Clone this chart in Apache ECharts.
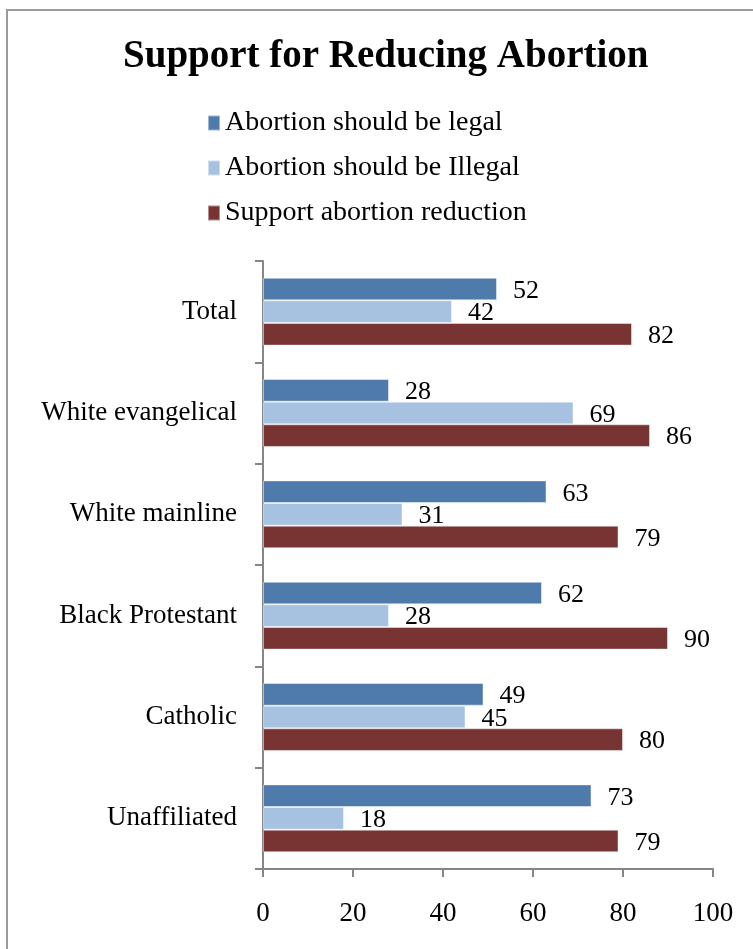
<!DOCTYPE html>
<html>
<head>
<meta charset="utf-8">
<script src="https://cdn.jsdelivr.net/npm/echarts@6/dist/echarts.min.js"></script>
<style>
  html, body { margin: 0; padding: 0; background: #ffffff; }
  #chart { width: 753px; height: 949px; }
</style>
</head>
<body>
<div id="chart"></div>
<script>
// Survey groups, listed top to bottom
const groups = ['Total', 'White evangelical', 'White mainline', 'Black Protestant', 'Catholic', 'Unaffiliated'];

// Percentages per group
const legalValues = [52, 28, 63, 62, 49, 73];
const illegalValues = [42, 69, 31, 28, 45, 18];
const reductionValues = [82, 86, 79, 90, 80, 79];

const seriesNames = ['Abortion should be legal', 'Abortion should be Illegal', 'Support abortion reduction'];
const seriesColors = ['#4F7BAC', '#A7C1E0', '#773432'];

// Value axis ticks
const axisMin = 0;
const axisMax = 100;
const axisStep = 20;

const FONT = '"Liberation Serif", "DejaVu Serif", serif';

function barSeries(name, values, color) {
  return {
    name: name,
    type: 'bar',
    data: values,
    barGap: '0%',
    barCategoryGap: '33%',
    itemStyle: { color: color, borderColor: 'rgba(255,255,255,0.45)', borderWidth: 1 },
    label: {
      show: true,
      position: 'right',
      distance: 16,
      offset: [0, 2],
      color: '#000000',
      fontFamily: FONT,
      fontSize: 26
    }
  };
}

const chart = echarts.init(document.getElementById('chart'), null, { renderer: 'canvas' });

chart.setOption({
  backgroundColor: '#ffffff',
  animation: false,
  graphic: [{
    type: 'rect',
    z: -10,
    shape: { x: 7, y: 10, width: 800, height: 1000 },
    style: { fill: 'none', stroke: '#9a9a9a', lineWidth: 2 }
  }],
  title: {
    text: 'Support for Reducing Abortion',
    left: 123,
    top: 37,
    padding: 0,
    textStyle: { fontFamily: FONT, fontWeight: 'bold', fontSize: 39, color: '#000000' }
  },
  legend: {
    orient: 'vertical',
    left: 207,
    top: 109,
    itemWidth: 12,
    itemHeight: 15,
    itemGap: 17,
    padding: 0,
    icon: 'rect',
    data: seriesNames,
    textStyle: { fontFamily: FONT, fontSize: 28, lineHeight: 28, color: '#000000' }
  },
  grid: { left: 263, right: 40, top: 261, bottom: 80, containLabel: false },
  xAxis: {
    type: 'value',
    min: axisMin,
    max: axisMax,
    interval: axisStep,
    splitLine: { show: false },
    axisLine: { show: true, lineStyle: { color: '#868686', width: 2 } },
    axisTick: { show: true, length: 8, lineStyle: { color: '#868686', width: 2 } },
    axisLabel: { margin: 31, color: '#000000', fontFamily: FONT, fontSize: 27 }
  },
  yAxis: {
    type: 'category',
    data: groups,
    inverse: true,
    axisLine: { show: true, lineStyle: { color: '#868686', width: 2 } },
    axisTick: { show: true, length: 8, lineStyle: { color: '#868686', width: 2 } },
    axisLabel: { margin: 26, color: '#000000', fontFamily: FONT, fontSize: 27 }
  },
  series: [
    barSeries(seriesNames[0], legalValues, seriesColors[0]),
    barSeries(seriesNames[1], illegalValues, seriesColors[1]),
    barSeries(seriesNames[2], reductionValues, seriesColors[2])
  ]
});
</script>
</body>
</html>
